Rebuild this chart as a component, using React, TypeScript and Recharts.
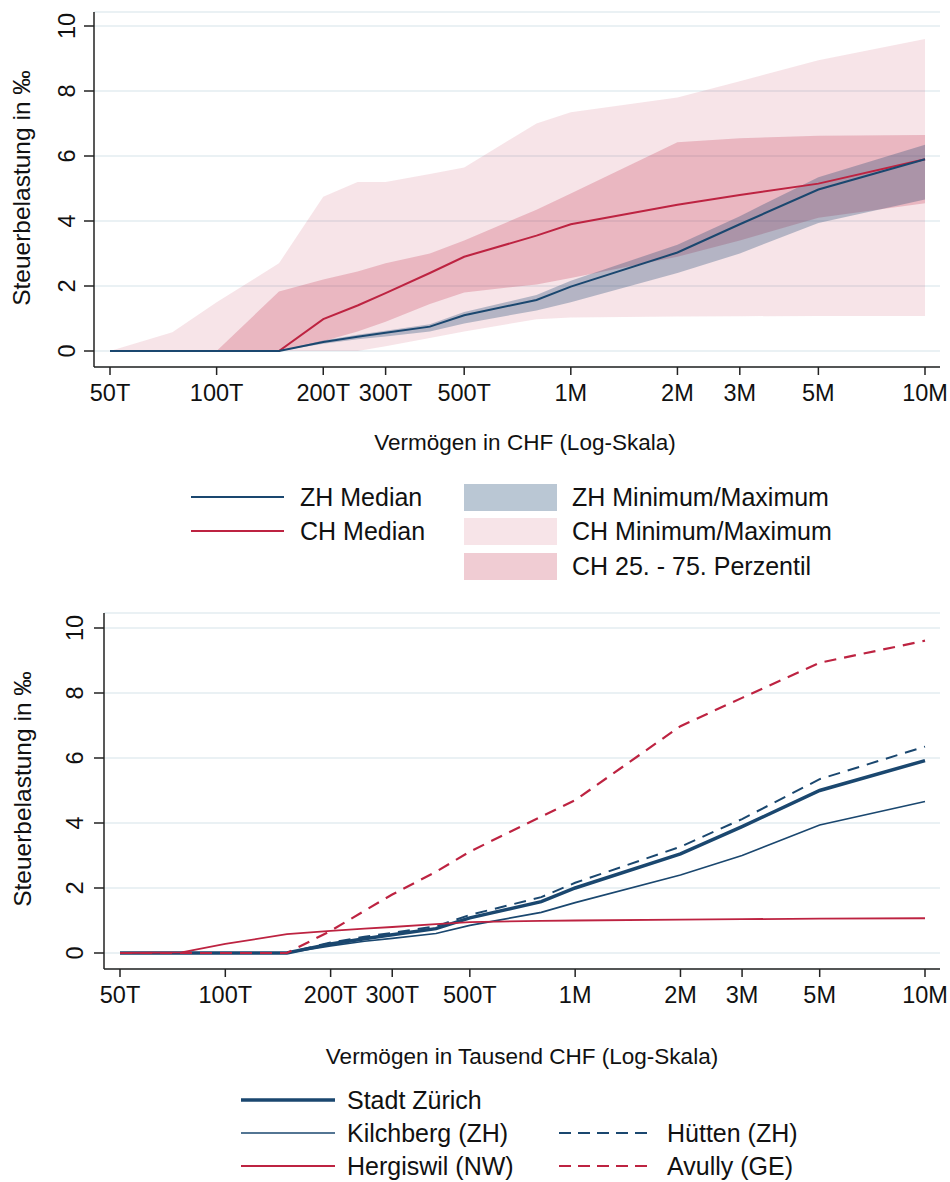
import React from 'react';
import { ComposedChart, Line, Area, XAxis, YAxis, CartesianGrid } from 'recharts';

// Wealth levels in thousand CHF
const wealthT = [50, 75, 100, 150, 200, 250, 300, 400, 500, 800, 1000, 2000, 3000, 5000, 10000];
const xTicks = [50, 100, 200, 300, 500, 1000, 2000, 3000, 5000, 10000];
const xTickLabels = ['50T', '100T', '200T', '300T', '500T', '1M', '2M', '3M', '5M', '10M'];
const yTicks = [0, 2, 4, 6, 8, 10];

// Top chart series (‰)
const zhMedian = [0, 0, 0, 0, 0.28, 0.44, 0.56, 0.75, 1.1, 1.57, 1.98, 3.03, 3.9, 4.97, 5.9];
const zhMin = [0, 0, 0, 0, 0.22, 0.36, 0.45, 0.6, 0.85, 1.25, 1.5, 2.4, 3.0, 3.94, 4.66];
const zhMax = [0, 0, 0, 0, 0.32, 0.5, 0.62, 0.82, 1.2, 1.72, 2.16, 3.27, 4.15, 5.35, 6.35];
const chMedian = [0, 0, 0, 0, 0.98, 1.4, 1.78, 2.4, 2.9, 3.55, 3.9, 4.5, 4.8, 5.15, 5.9];
const chMin = [0, 0, 0, 0, 0, 0, 0.15, 0.4, 0.6, 0.98, 1.03, 1.06, 1.07, 1.08, 1.08];
const chMax = [0, 0.58, 1.5, 2.7, 4.75, 5.2, 5.2, 5.45, 5.65, 7.0, 7.35, 7.8, 8.3, 8.95, 9.6];
const chP25 = [0, 0, 0, 0, 0.3, 0.6, 0.9, 1.45, 1.8, 2.05, 2.25, 2.9, 3.4, 4.1, 4.55];
const chP75 = [0, 0, 0, 1.83, 2.2, 2.45, 2.7, 3.0, 3.4, 4.35, 4.85, 6.42, 6.55, 6.62, 6.65];

// Bottom chart series (‰)
const stadtZuerich = [0, 0, 0, 0, 0.28, 0.44, 0.56, 0.75, 1.08, 1.58, 2.0, 3.05, 3.89, 5.0, 5.92];
const kilchberg = [0, 0, 0, 0, 0.22, 0.36, 0.45, 0.6, 0.85, 1.25, 1.55, 2.4, 3.0, 3.94, 4.66];
const huetten = [0, 0, 0, 0, 0.32, 0.5, 0.62, 0.82, 1.17, 1.72, 2.16, 3.27, 4.12, 5.35, 6.35];
const hergiswil = [0, 0.02, 0.28, 0.58, 0.68, 0.75, 0.8, 0.89, 0.95, 0.99, 1.0, 1.03, 1.04, 1.06, 1.07];
const avully = [0, 0, 0, 0, 0.68, 1.3, 1.8, 2.5, 3.12, 4.2, 4.7, 6.98, 7.85, 8.93, 9.61];

const FONT = '"Liberation Sans", Arial, Helvetica, sans-serif';
const NAVY = '#1a476f';
const RED = '#bd2341';
const GRID = '#e3ecf0';
const AXIS = '#222222';
const TXT = '#111111';

const topData = wealthT.map((w, i) => ({
  w,
  zhMedian: zhMedian[i],
  chMedian: chMedian[i],
  zhRange: [zhMin[i], zhMax[i]],
  chRange: [chMin[i], chMax[i]],
  chIqr: [chP25[i], chP75[i]],
}));

const bottomData = wealthT.map((w, i) => ({
  w,
  stadtZuerich: stadtZuerich[i],
  kilchberg: kilchberg[i],
  huetten: huetten[i],
  hergiswil: hergiswil[i],
  avully: avully[i],
}));

const fmtX = (v: number) => {
  const i = xTicks.indexOf(v);
  return i >= 0 ? xTickLabels[i] : '';
};

const YTick = (props: any) => {
  const { x, y, payload } = props;
  return (
    <text
      x={x}
      y={y}
      dy="0.36em"
      textAnchor="middle"
      transform={`rotate(-90 ${x} ${y})`}
      fontSize={23.5}
      fontFamily={FONT}
      fill={TXT}
    >
      {payload.value}
    </text>
  );
};

const xTickStyle = { fontSize: 23.5, fill: TXT, fontFamily: FONT };

const abs = (left: number, top: number, extra: any = {}) => ({
  position: 'absolute' as const,
  left,
  top,
  ...extra,
});

const TextAt = ({ x, y, children, size = 25 }: any) => (
  <div
    style={abs(x, y, {
      transform: 'translateY(-50%)',
      fontFamily: FONT,
      fontSize: size,
      color: TXT,
      whiteSpace: 'nowrap',
      lineHeight: 1,
    })}
  >
    {children}
  </div>
);

const CenterText = ({ x, y, children, size = 22.5, rotate = false }: any) => (
  <div
    style={abs(x, y, {
      transform: `translate(-50%, -50%)${rotate ? ' rotate(-90deg)' : ''}`,
      fontFamily: FONT,
      fontSize: size,
      color: TXT,
      whiteSpace: 'nowrap',
      lineHeight: 1,
    })}
  >
    {children}
  </div>
);

const LineSample = ({ x, y, w, color, width, dash }: any) => (
  <svg style={abs(x, y - 6)} width={w} height={12}>
    <line x1={0} y1={6} x2={w} y2={6} stroke={color} strokeWidth={width} strokeDasharray={dash} />
  </svg>
);

const Swatch = ({ x, y, w, h, color, opacity }: any) => (
  <div style={abs(x, y - h / 2, { width: w, height: h, background: color, opacity })} />
);

const topLegendLines = [
  { label: 'ZH Median', color: NAVY },
  { label: 'CH Median', color: RED },
];
const topLegendAreas = [
  { label: 'ZH Minimum/Maximum', color: NAVY, opacity: 0.3 },
  { label: 'CH Minimum/Maximum', color: RED, opacity: 0.12 },
  { label: 'CH 25. - 75. Perzentil', color: RED, opacity: 0.23 },
];
const legendRowsTop = [497, 531, 566];
const legendRowsBottom = [1100, 1133, 1166];

const bottomLegendLeft = [
  { label: 'Stadt Zürich', color: NAVY, width: 3.5 },
  { label: 'Kilchberg (ZH)', color: NAVY, width: 1.6 },
  { label: 'Hergiswil (NW)', color: RED, width: 1.8 },
];
const bottomLegendRight = [
  null,
  { label: 'Hütten (ZH)', color: NAVY, width: 1.8 },
  { label: 'Avully (GE)', color: RED, width: 2 },
];

export default function App() {
  return (
    <div style={{ position: 'absolute', left: 0, top: 0, width: 950, height: 1182, background: '#fff', overflow: 'hidden' }}>
      {/* Top chart */}
      <div style={abs(0, 0)}>
        <ComposedChart width={950} height={407} data={topData} margin={{ top: 12, right: 10, bottom: 0, left: 0 }}>
          <CartesianGrid horizontal vertical={false} stroke={GRID} strokeWidth={1.5} />
          <XAxis
            dataKey="w"
            type="number"
            scale="log"
            domain={[50, 10000]}
            ticks={xTicks}
            tickFormatter={fmtX}
            padding={{ left: 16, right: 15 }}
            height={40}
            tickSize={8}
            tickMargin={9}
            stroke={AXIS}
            strokeWidth={1.5}
            tick={xTickStyle}
            interval={0}
          />
          <YAxis
            type="number"
            domain={[0, 10]}
            ticks={yTicks}
            width={94}
            padding={{ top: 14, bottom: 16 }}
            tickSize={10}
            tickMargin={17}
            tick={<YTick />}
            stroke={AXIS}
            strokeWidth={1.5}
            interval={0}
          />
          <Area dataKey="chRange" type="linear" stroke="none" fill={RED} fillOpacity={0.12} isAnimationActive={false} dot={false} activeDot={false} />
          <Area dataKey="chIqr" type="linear" stroke="none" fill={RED} fillOpacity={0.23} isAnimationActive={false} dot={false} activeDot={false} />
          <Area dataKey="zhRange" type="linear" stroke="none" fill={NAVY} fillOpacity={0.3} isAnimationActive={false} dot={false} activeDot={false} />
          <Line dataKey="chMedian" type="linear" stroke={RED} strokeWidth={2} dot={false} activeDot={false} isAnimationActive={false} />
          <Line dataKey="zhMedian" type="linear" stroke={NAVY} strokeWidth={2} dot={false} activeDot={false} isAnimationActive={false} />
        </ComposedChart>
      </div>
      <CenterText x={22} y={188} size={24.5} rotate>Steuerbelastung in ‰</CenterText>
      <CenterText x={525} y={443}>Vermögen in CHF (Log-Skala)</CenterText>

      {/* Top legend */}
      {topLegendLines.map((it, i) => (
        <React.Fragment key={it.label}>
          <LineSample x={191} y={legendRowsTop[i]} w={93} color={it.color} width={2.2} />
          <TextAt x={300} y={legendRowsTop[i]}>{it.label}</TextAt>
        </React.Fragment>
      ))}
      {topLegendAreas.map((it, i) => (
        <React.Fragment key={it.label}>
          <Swatch x={464} y={legendRowsTop[i]} w={93} h={27} color={it.color} opacity={it.opacity} />
          <TextAt x={572} y={legendRowsTop[i]}>{it.label}</TextAt>
        </React.Fragment>
      ))}

      {/* Bottom chart */}
      <div style={abs(0, 600)}>
        <ComposedChart width={950} height={409} data={bottomData} margin={{ top: 13, right: 10, bottom: 0, left: 0 }}>
          <CartesianGrid horizontal vertical={false} stroke={GRID} strokeWidth={1.5} />
          <XAxis
            dataKey="w"
            type="number"
            scale="log"
            domain={[50, 10000]}
            ticks={xTicks}
            tickFormatter={fmtX}
            padding={{ left: 16, right: 15 }}
            height={40}
            tickSize={8}
            tickMargin={9}
            stroke={AXIS}
            strokeWidth={1.5}
            tick={xTickStyle}
            interval={0}
          />
          <YAxis
            type="number"
            domain={[0, 10]}
            ticks={yTicks}
            width={104}
            padding={{ top: 15, bottom: 16 }}
            tickSize={10}
            tickMargin={19}
            tick={<YTick />}
            stroke={AXIS}
            strokeWidth={1.5}
            interval={0}
          />
          <Line dataKey="kilchberg" type="linear" stroke={NAVY} strokeWidth={1.6} dot={false} activeDot={false} isAnimationActive={false} />
          <Line dataKey="huetten" type="linear" stroke={NAVY} strokeWidth={2} strokeDasharray="12 8" dot={false} activeDot={false} isAnimationActive={false} />
          <Line dataKey="stadtZuerich" type="linear" stroke={NAVY} strokeWidth={3.5} dot={false} activeDot={false} isAnimationActive={false} />
          <Line dataKey="hergiswil" type="linear" stroke={RED} strokeWidth={1.8} dot={false} activeDot={false} isAnimationActive={false} />
          <Line dataKey="avully" type="linear" stroke={RED} strokeWidth={2.2} strokeDasharray="12 8" dot={false} activeDot={false} isAnimationActive={false} />
        </ComposedChart>
      </div>
      <CenterText x={23} y={789} size={24.5} rotate>Steuerbelastung in ‰</CenterText>
      <CenterText x={522} y={1057}>Vermögen in Tausend CHF (Log-Skala)</CenterText>

      {/* Bottom legend */}
      {bottomLegendLeft.map((it, i) => (
        <React.Fragment key={it.label}>
          <LineSample x={241} y={legendRowsBottom[i]} w={94} color={it.color} width={it.width} />
          <TextAt x={347} y={legendRowsBottom[i]}>{it.label}</TextAt>
        </React.Fragment>
      ))}
      {bottomLegendRight.map((it, i) =>
        it ? (
          <React.Fragment key={it.label}>
            <LineSample x={559} y={legendRowsBottom[i]} w={93} color={it.color} width={it.width} dash="12 7" />
            <TextAt x={667} y={legendRowsBottom[i]}>{it.label}</TextAt>
          </React.Fragment>
        ) : null
      )}
    </div>
  );
}
